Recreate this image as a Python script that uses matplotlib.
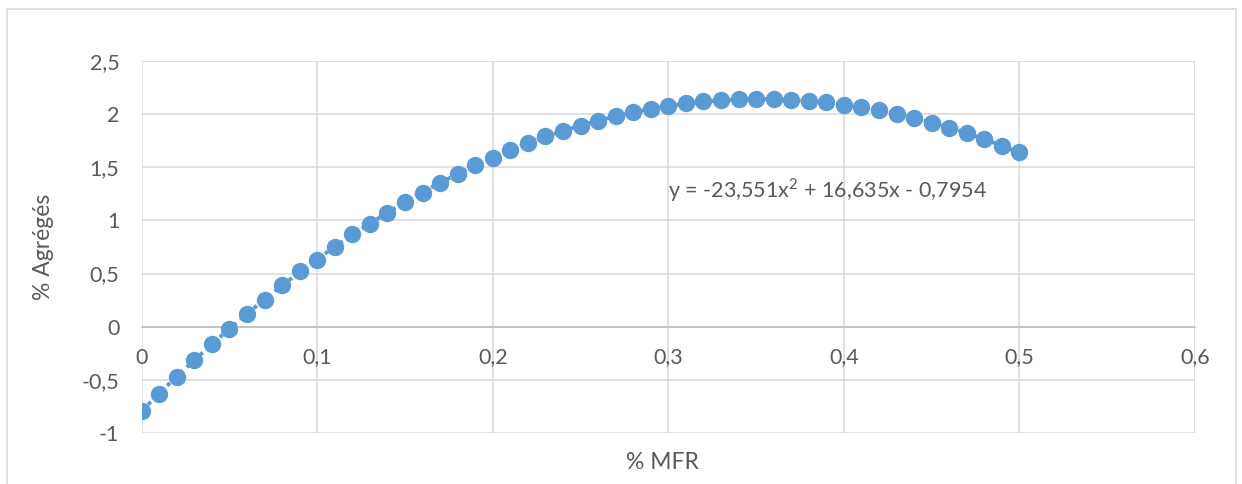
import numpy as np
import matplotlib.pyplot as plt
from matplotlib.ticker import FuncFormatter, MultipleLocator
from matplotlib.patches import Rectangle

# % MFR et % Agrégés
mfr = [0.00, 0.01, 0.02, 0.03, 0.04, 0.05, 0.06, 0.07, 0.08, 0.09,
       0.10, 0.11, 0.12, 0.13, 0.14, 0.15, 0.16, 0.17, 0.18, 0.19,
       0.20, 0.21, 0.22, 0.23, 0.24, 0.25, 0.26, 0.27, 0.28, 0.29,
       0.30, 0.31, 0.32, 0.33, 0.34, 0.35, 0.36, 0.37, 0.38, 0.39,
       0.40, 0.41, 0.42, 0.43, 0.44, 0.45, 0.46, 0.47, 0.48, 0.49, 0.50]
agreges = [-0.79, -0.63, -0.47, -0.31, -0.16, -0.02, 0.12, 0.25, 0.39, 0.52,
           0.63, 0.75, 0.87, 0.97, 1.07, 1.17, 1.26, 1.35, 1.44, 1.52,
           1.59, 1.66, 1.73, 1.79, 1.84, 1.89, 1.94, 1.98, 2.02, 2.05,
           2.08, 2.10, 2.12, 2.13, 2.14, 2.14, 2.14, 2.13, 2.12, 2.11,
           2.09, 2.07, 2.04, 2.00, 1.96, 1.92, 1.87, 1.82, 1.77, 1.70, 1.64]
equation = 'y = -23,551x$^2$ + 16,635x - 0,7954'

bleu = '#5B9BD5'
gris = '#595959'
plt.rcParams['font.family'] = ['Lato', 'DejaVu Sans']
plt.rcParams['mathtext.fontset'] = 'custom'
plt.rcParams['mathtext.rm'] = 'Lato'

fig = plt.figure(figsize=(12.42, 4.84), dpi=100)
ax = fig.add_axes([0.1141, 0.1054, 0.8481, 0.7686])

# cadre du graphique
fig.patches.append(Rectangle((0.0056, -0.02), 0.9895, 1.0014, transform=fig.transFigure,
                             fill=False, edgecolor='#D9D9D9', linewidth=1.2))

# courbe de tendance polynomiale
coef = np.polyfit(mfr, agreges, 2)
xt = np.linspace(0, 0.5, 200)
ax.plot(xt, np.polyval(coef, xt), color=bleu, linewidth=2.8,
        linestyle=(0, (1, 1.3)), zorder=2)
ax.plot(mfr, agreges, 'o', color=bleu, markersize=11.5, zorder=3)

ax.text(0.2995, 1.29, equation, fontsize=15.5, color=gris, va='center', ha='left')

ax.set_xlim(0, 0.6)
ax.set_ylim(-1, 2.5)
ax.xaxis.set_major_locator(MultipleLocator(0.1))
ax.yaxis.set_major_locator(MultipleLocator(0.5))
virgule = FuncFormatter(lambda v, p: ('%g' % round(v, 2)).replace('.', ','))
ax.xaxis.set_major_formatter(virgule)
ax.yaxis.set_major_formatter(virgule)
ax.grid(True, color='#D9D9D9', linewidth=1.1)
ax.set_axisbelow(True)

for s in ['top', 'right', 'left']:
    ax.spines[s].set_visible(False)
ax.spines['bottom'].set_position(('data', 0))
ax.spines['bottom'].set_color('#BFBFBF')
ax.spines['bottom'].set_linewidth(1.2)
ax.tick_params(axis='x', length=0, pad=15, labelsize=15.5, labelcolor=gris)
ax.tick_params(axis='y', length=0, pad=16, labelsize=15.5, labelcolor=gris)

ax.set_xlabel('% MFR', fontsize=16.5, color=gris)
ax.set_ylabel('% Agrégés', fontsize=16.5, color=gris)
ax.xaxis.set_label_coords(0.494, -0.05)
ax.yaxis.set_label_coords(-0.083, 0.5)

fig.savefig('out.png', dpi=100)
